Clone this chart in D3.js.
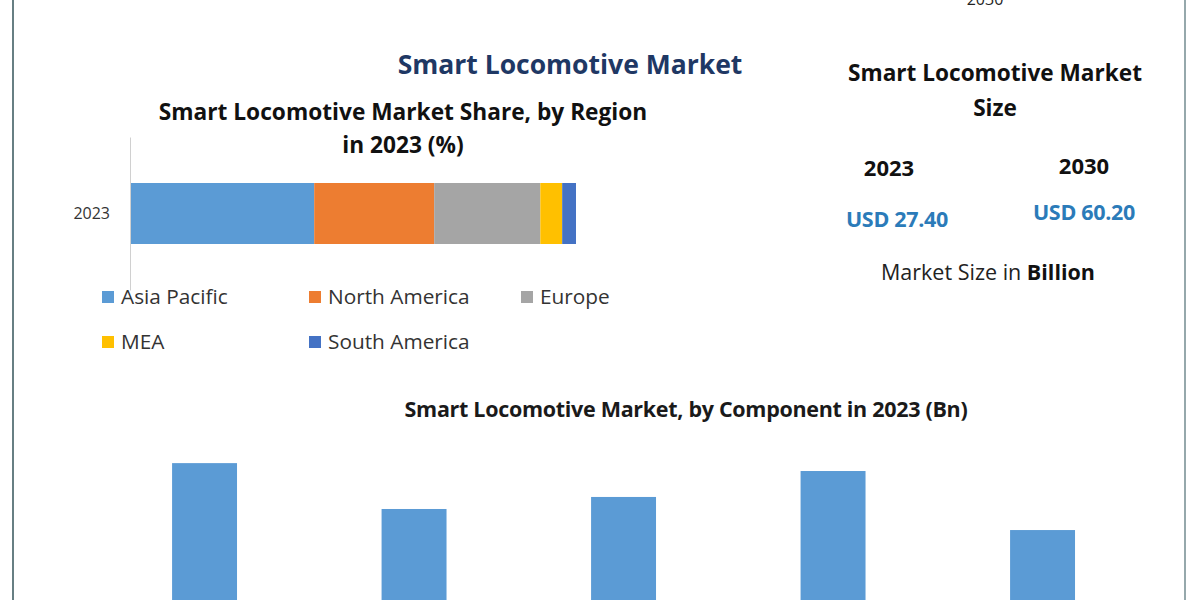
<!DOCTYPE html>
<html>
<head>
<meta charset="utf-8">
<script src="https://cdn.jsdelivr.net/npm/d3@7"></script>
<style>
  body { margin: 0; background: #fff; }
  svg { display: block; font-family: "Open Sans", Lato, sans-serif; }
</style>
</head>
<body>
<div id="chart"></div>
<script>
// region share, 2023 (%)
const regions = ["Asia Pacific", "North America", "Europe", "MEA", "South America"];
const regionShare = [41.3, 26.9, 23.8, 4.9, 3.1];
const regionColors = ["#5b9bd5", "#ed7d31", "#a5a5a5", "#ffc000", "#4472c4"];
const shareYears = ["2023"];

// market size (USD Bn)
const sizeYears = ["2023", "2030"];
const sizeValues = ["USD 27.40", "USD 60.20"];

// by component 2023 (Bn) - the category labels sit below the visible area
const components = ["Hardware", "Software", "Services", "Sensors", "Others"];
const componentValues = [6.30, 5.08, 5.40, 6.09, 4.52];

const W = 1200, H = 600;

const svg = d3.select("#chart").append("svg")
    .attr("width", W)
    .attr("height", H);

svg.append("rect").attr("width", W).attr("height", H).attr("fill", "#fff");

// frame lines left / right
svg.append("line").attr("x1", 13).attr("x2", 13).attr("y1", 0).attr("y2", H)
    .attr("stroke", "#34545a").attr("stroke-width", 1.5);
svg.append("line").attr("x1", 1185).attr("x2", 1185).attr("y1", 0).attr("y2", H)
    .attr("stroke", "#4f6e74").attr("stroke-width", 1.2);

// text cut off at the top (as in the source image)
svg.append("text").attr("x", 985).attr("y", 5)
    .attr("text-anchor", "middle").attr("font-size", 16).attr("fill", "#222")
    .text("2030");

// main title
svg.append("text").attr("x", 570).attr("y", 74)
    .attr("text-anchor", "middle").attr("font-size", 26.5).attr("font-weight", 700)
    .attr("fill", "#1f3864")
    .text("Smart Locomotive Market");

// ---------- stacked bar by region ----------
const sub = svg.append("text").attr("text-anchor", "middle")
    .attr("font-size", 22.7).attr("font-weight", 700).attr("fill", "#111");
sub.append("tspan").attr("x", 403).attr("y", 120).text("Smart Locomotive Market Share, by Region");
sub.append("tspan").attr("x", 403).attr("y", 153).text("in 2023 (%)");

const x = d3.scaleLinear().domain([0, 100]).range([130, 576]);
const yb = d3.scaleBand().domain(shareYears).range([137, 290]);

let acc = 0;
const stack = regions.map((r, i) => {
    const s = { name: r, x0: acc, x1: acc + regionShare[i], color: regionColors[i] };
    acc += regionShare[i];
    return s;
});

svg.append("g").selectAll("rect")
    .data(stack)
    .join("rect")
    .attr("x", d => x(d.x0))
    .attr("width", d => x(d.x1) - x(d.x0))
    .attr("y", 183)
    .attr("height", 61)
    .attr("fill", d => d.color);

const yAxis = svg.append("g")
    .attr("transform", "translate(130,0)")
    .call(d3.axisLeft(yb).tickSize(0).tickPadding(20));
yAxis.select(".domain").attr("stroke", "#d0d0d0");
yAxis.selectAll("text").attr("font-size", 16).attr("fill", "#333")
    .attr("font-family", "'Open Sans', sans-serif");

// legend
const legPos = [[102, 297], [309, 297], [521, 297], [102, 342], [309, 342]];
const leg = svg.append("g").selectAll("g")
    .data(regions)
    .join("g")
    .attr("transform", (d, i) => `translate(${legPos[i][0]},${legPos[i][1]})`);
leg.append("rect").attr("x", 0).attr("y", -6).attr("width", 12).attr("height", 12)
    .attr("fill", (d, i) => regionColors[i]);
leg.append("text").attr("x", 19).attr("y", 7).attr("font-size", 20.8).attr("fill", "#333")
    .text(d => d);

// ---------- market size panel ----------
const ms = svg.append("text").attr("text-anchor", "middle")
    .attr("font-size", 22.6).attr("font-weight", 700).attr("fill", "#111");
ms.append("tspan").attr("x", 995).attr("y", 81).text("Smart Locomotive Market");
ms.append("tspan").attr("x", 995).attr("y", 116).text("Size");

const sizeX = [889, 1084];
const sizeYearY = [176, 174];
const sizeValY = [227, 220];
sizeYears.forEach((yr, i) => {
    svg.append("text").attr("x", sizeX[i]).attr("y", sizeYearY[i])
        .attr("text-anchor", "middle").attr("font-size", 22).attr("font-weight", 700)
        .attr("fill", "#111").text(yr);
    svg.append("text").attr("x", sizeX[i] + (i === 0 ? 8 : 0)).attr("y", sizeValY[i])
        .attr("text-anchor", "middle").attr("font-size", 21.5).attr("font-weight", 700)
        .attr("fill", "#2b7bb9").attr("letter-spacing", -0.3).text(sizeValues[i]);
});

const note = svg.append("text").attr("x", 988).attr("y", 280)
    .attr("text-anchor", "middle").attr("font-size", 21.5).attr("fill", "#222");
note.append("tspan").text("Market Size in ");
note.append("tspan").attr("font-weight", 700).attr("fill", "#111").text("Billion");

// ---------- by component ----------
svg.append("text").attr("x", 686).attr("y", 417)
    .attr("text-anchor", "middle").attr("font-size", 21.5).attr("font-weight", 700)
    .attr("fill", "#1a1a1a").attr("letter-spacing", -0.3)
    .text("Smart Locomotive Market, by Component in 2023 (Bn)");

const xc = d3.scaleBand().domain(components).range([99.8, 1147.3])
    .paddingInner(0.69).paddingOuter(0.345);
const yc = d3.scaleLinear().domain([0, 8]).range([700, 399.2]);

svg.append("g").selectAll("rect")
    .data(components)
    .join("rect")
    .attr("x", d => xc(d))
    .attr("width", xc.bandwidth())
    .attr("y", (d, i) => yc(componentValues[i]))
    .attr("height", (d, i) => yc(0) - yc(componentValues[i]))
    .attr("fill", "#5b9bd5");
</script>
</body>
</html>
